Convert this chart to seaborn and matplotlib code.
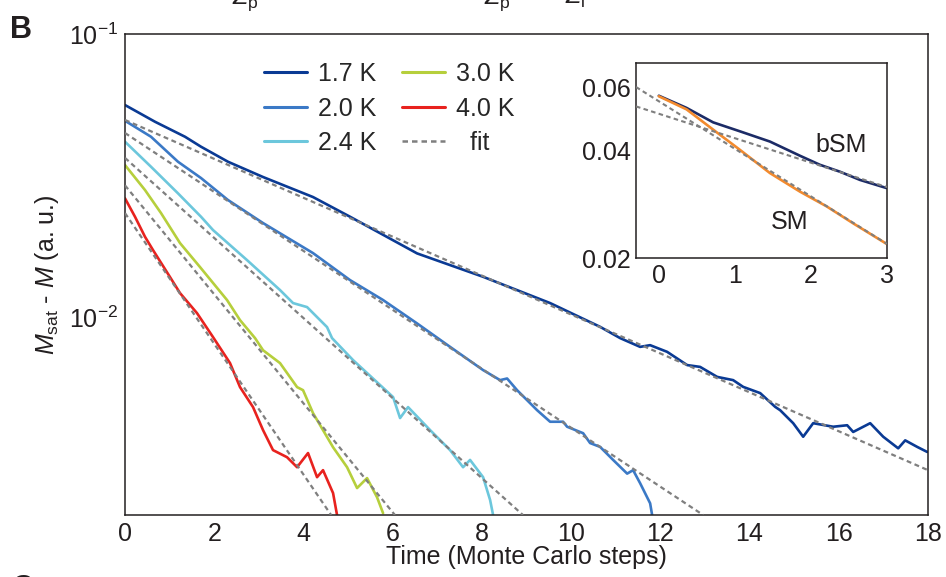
import numpy as np
import pandas as pd
import matplotlib
matplotlib.use("Agg")
import matplotlib.pyplot as plt
import seaborn as sns
from matplotlib.lines import Line2D
from matplotlib.ticker import FixedLocator, NullFormatter, FixedFormatter, LogLocator

# ---------------- data ----------------
temps = ["1.7 K", "2.0 K", "2.4 K", "3.0 K", "4.0 K"]
colors = ["#0a3a94", "#3b79c6", "#6cc7dc", "#b6cf3c", "#e8221e"]

t_17 = [0.00, 0.673, 1.345, 1.704, 2.309, 3.094, 4.215, 5.045, 6.547, 8.027, 9.529, 10.650,
        11.099, 11.547, 11.771, 12.152, 12.601, 12.892, 13.274, 13.632, 13.857, 14.238, 14.574,
        14.686, 14.978, 15.202, 15.426, 15.874, 16.188, 16.323, 16.704, 16.996, 17.332, 17.489,
        17.758, 17.982]
m_17 = [0.05612, 0.04898, 0.04336, 0.03998, 0.03538, 0.03125, 0.02655, 0.02262, 0.01679, 0.01388,
        0.01121, 0.00924, 0.00843, 0.00785, 0.00796, 0.00754, 0.00677, 0.00667, 0.00615, 0.00599,
        0.00567, 0.00539, 0.00482, 0.00469, 0.00422, 0.00378, 0.00422, 0.00410, 0.00415, 0.00393,
        0.00422, 0.00378, 0.00344, 0.00367, 0.00348, 0.00334]

t_20 = [0.00, 0.583, 1.188, 1.704, 2.309, 3.094, 4.215, 5.045, 5.785, 6.547, 7.287, 8.027, 8.408,
        8.565, 8.789, 9.238, 9.529, 9.821, 9.910, 10.269, 10.426, 10.650, 10.942, 11.256, 11.390,
        11.547, 11.771, 11.816]
m_20 = [0.04938, 0.04336, 0.03538, 0.03099, 0.02591, 0.02149, 0.01683, 0.01351, 0.01149, 0.00950,
        0.00785, 0.00650, 0.00599, 0.00607, 0.00552, 0.00469, 0.00427, 0.00427, 0.00410, 0.00389,
        0.00359, 0.00348, 0.00313, 0.00280, 0.00288, 0.00259, 0.00220, 0.00200]

t_24 = [0.00, 0.583, 1.188, 1.704, 1.973, 2.735, 3.475, 3.767, 4.081, 4.529, 4.641, 5.112, 6.009,
        6.166, 6.345, 6.839, 7.287, 7.578, 7.735, 8.027, 8.184, 8.251]
m_24 = [0.04164, 0.03397, 0.02736, 0.02262, 0.02030, 0.01590, 0.01246, 0.01121, 0.01085, 0.00922,
        0.00843, 0.00705, 0.00522, 0.00440, 0.00481, 0.00399, 0.00339, 0.00295, 0.00313, 0.00272,
        0.00226, 0.00200]

t_30 = [0.00, 0.448, 0.807, 1.233, 1.682, 2.287, 2.578, 2.915, 3.094, 3.475, 3.857, 3.991, 4.215,
        4.664, 4.978, 5.202, 5.426, 5.650, 5.785]
m_30 = [0.03444, 0.02811, 0.02331, 0.01826, 0.01502, 0.01149, 0.00976, 0.00843, 0.00764, 0.00688,
        0.00566, 0.00552, 0.00458, 0.00347, 0.00295, 0.00249, 0.00270, 0.00231, 0.00203]

t_40 = [0.00, 0.224, 0.448, 0.628, 1.009, 1.233, 1.614, 1.973, 2.354, 2.578, 2.870, 3.094, 3.318,
        3.632, 3.857, 4.103, 4.305, 4.439, 4.664, 4.753]
m_40 = [0.02627, 0.02262, 0.01922, 0.01725, 0.01385, 0.01216, 0.01033, 0.00850, 0.00688, 0.00566,
        0.00481, 0.00399, 0.00339, 0.00320, 0.00295, 0.00331, 0.00272, 0.00288, 0.00239, 0.00200]

# fits (straight lines on the log axis): start and end points
fit_t = [[0.0, 18.0], [0.0, 12.96], [0.0, 8.92], [0.0, 6.05], [0.0, 4.62]]
fit_m = [[0.0497, 0.00288], [0.0447, 0.00200], [0.0365, 0.00200], [0.0292, 0.00200], [0.0233, 0.00200]]

# inset
ins_labels = ["bSM", "SM"]
ins_colors = ["#1c2b66", "#f28a2e"]
ins_t_bsm = [0.0, 0.364, 0.714, 1.066, 1.461, 1.855, 2.118, 2.382, 2.645, 2.996]
ins_m_bsm = [0.0570, 0.0527, 0.0480, 0.0453, 0.0424, 0.0387, 0.0365, 0.0349, 0.0331, 0.0314]
ins_t_sm = [0.0, 0.364, 0.714, 1.066, 1.461, 1.855, 2.207, 2.557, 2.996]
ins_m_sm = [0.0568, 0.0522, 0.0458, 0.0402, 0.0346, 0.0307, 0.0279, 0.0250, 0.0219]
ins_fit_t = [[-0.30, 3.0], [-0.30, 3.0]]
ins_fit_m = [[0.0532, 0.0316], [0.0603, 0.0219]]

# ---------------- style ----------------
sns.set_theme(style="white")
plt.rcParams["font.family"] = ["Liberation Sans", "DejaVu Sans"]
plt.rcParams["mathtext.fontset"] = "custom"
plt.rcParams["mathtext.rm"] = "Liberation Sans"
plt.rcParams["mathtext.it"] = "Liberation Sans:italic"
plt.rcParams["mathtext.bf"] = "Liberation Sans:bold"
ink = "#231f20"
FS = 18
fitc = "#7f7f7f"
dash = (0, (2.2, 1.6))

fig = plt.figure(figsize=(9.46, 5.77), dpi=100)
W, H = 946, 577
ax = fig.add_axes([125 / W, (H - 515) / H, 803 / W, 481 / H])

series_t = [t_17, t_20, t_24, t_30, t_40]
series_m = [m_17, m_20, m_24, m_30, m_40]
df = pd.concat([pd.DataFrame({"t": t, "m": m, "T": lab})
                for t, m, lab in zip(series_t, series_m, temps)], ignore_index=True)
sns.lineplot(data=df, x="t", y="m", hue="T", palette=dict(zip(temps, colors)),
             estimator=None, sort=False, lw=1.9, legend=False, ax=ax)
dff = pd.concat([pd.DataFrame({"t": t, "m": m, "T": lab})
                 for t, m, lab in zip(fit_t, fit_m, temps)], ignore_index=True)
for lab in temps:
    sub = dff[dff["T"] == lab]
    sns.lineplot(data=sub, x="t", y="m", color=fitc, lw=1.6, estimator=None, sort=False,
                 linestyle=dash, ax=ax, zorder=5)

ax.set_yscale("log")
ax.set_xlim(0, 18)
ax.set_ylim(0.002, 0.1)
ax.set_xticks(range(0, 19, 2))
ax.yaxis.set_major_locator(FixedLocator([0.01, 0.1]))
ax.yaxis.set_major_formatter(FixedFormatter([r"$10^{-2}$", r"$10^{-1}$"]))
ax.yaxis.set_minor_locator(LogLocator(base=10, subs=np.arange(2, 10)))
ax.yaxis.set_minor_formatter(NullFormatter())
ax.tick_params(which="both", direction="in", colors=ink, labelsize=FS, top=False, right=False,
               width=1.0)
ax.tick_params(which="major", length=6, pad=5)
ax.tick_params(which="minor", length=3.5)
for s in ax.spines.values():
    s.set_color(ink)
    s.set_linewidth(1.1)
ax.set_xlabel("Time (Monte Carlo steps)", fontsize=FS, color=ink, labelpad=-1)
ax.set_ylabel(r"$M_{\mathrm{sat}}$ - $M$ (a. u.)", fontsize=FS, color=ink, labelpad=6)

handles = [Line2D([], [], color=c, lw=2.2) for c in colors]
handles.append(Line2D([], [], color=fitc, lw=1.8, linestyle=(0, (2.2, 1.6))))
labels = temps + ["  fit"]
ax.legend(handles, labels, ncol=2, frameon=False, fontsize=FS, loc="upper left",
          bbox_to_anchor=(0.167, 0.952), handlelength=1.7, handletextpad=0.45,
          columnspacing=1.05, labelspacing=0.42, borderaxespad=0, borderpad=0.2)

# ---------------- inset ----------------
axi = fig.add_axes([636 / W, (H - 258) / H, 251 / W, 195 / H])
dfi = pd.concat([pd.DataFrame({"t": ins_t_bsm, "m": ins_m_bsm, "k": "bSM"}),
                 pd.DataFrame({"t": ins_t_sm, "m": ins_m_sm, "k": "SM"})], ignore_index=True)
sns.lineplot(data=dfi, x="t", y="m", hue="k", palette=dict(zip(ins_labels, ins_colors)),
             estimator=None, sort=False, lw=1.9, legend=False, ax=axi)
for t, m in zip(ins_fit_t, ins_fit_m):
    sns.lineplot(x=t, y=m, color=fitc, lw=1.5, linestyle=dash, ax=axi, zorder=5)
axi.set_yscale("log")
axi.set_xlim(-0.3, 3.0)
axi.set_ylim(0.02, 0.0704)
axi.set_xticks([0, 1, 2, 3])
axi.yaxis.set_major_locator(FixedLocator([0.02, 0.04, 0.06]))
axi.yaxis.set_major_formatter(FixedFormatter(["0.02", "0.04", "0.06"]))
axi.yaxis.set_minor_locator(FixedLocator([0.03, 0.05]))
axi.yaxis.set_minor_formatter(NullFormatter())
axi.tick_params(which="both", direction="in", colors=ink, labelsize=FS, top=False, right=False,
                width=1.0)
axi.tick_params(which="major", length=5, pad=4)
axi.tick_params(which="minor", length=3.5)
axi.set_xlabel("")
axi.set_ylabel("")
for s in axi.spines.values():
    s.set_color(ink)
    s.set_linewidth(1.1)
axi.text(2.4, 0.0415, "bSM", fontsize=FS, color=ink, ha="center", va="center")
axi.text(1.72, 0.0252, "SM", fontsize=FS, color=ink, ha="center", va="center")

# ---------------- panel labels and cropped neighbours ----------------
fig.text(10 / W, 1 - 38 / H, "B", fontsize=22, fontweight="bold", color=ink, va="baseline")
fig.text(12 / W, 1 - 574 / H, "C", fontsize=22, fontweight="bold", color=ink, va="top")
for xx, s in [(232, r"$Z_{\mathrm{p}}$"), (484, r"$Z_{\mathrm{p}}$"), (565, r"$Z_{\mathrm{i}}$")]:
    fig.text(xx / W, 1 - 4 / H, s, fontsize=18, color=ink, va="baseline")

fig.savefig("out.png", dpi=100)
